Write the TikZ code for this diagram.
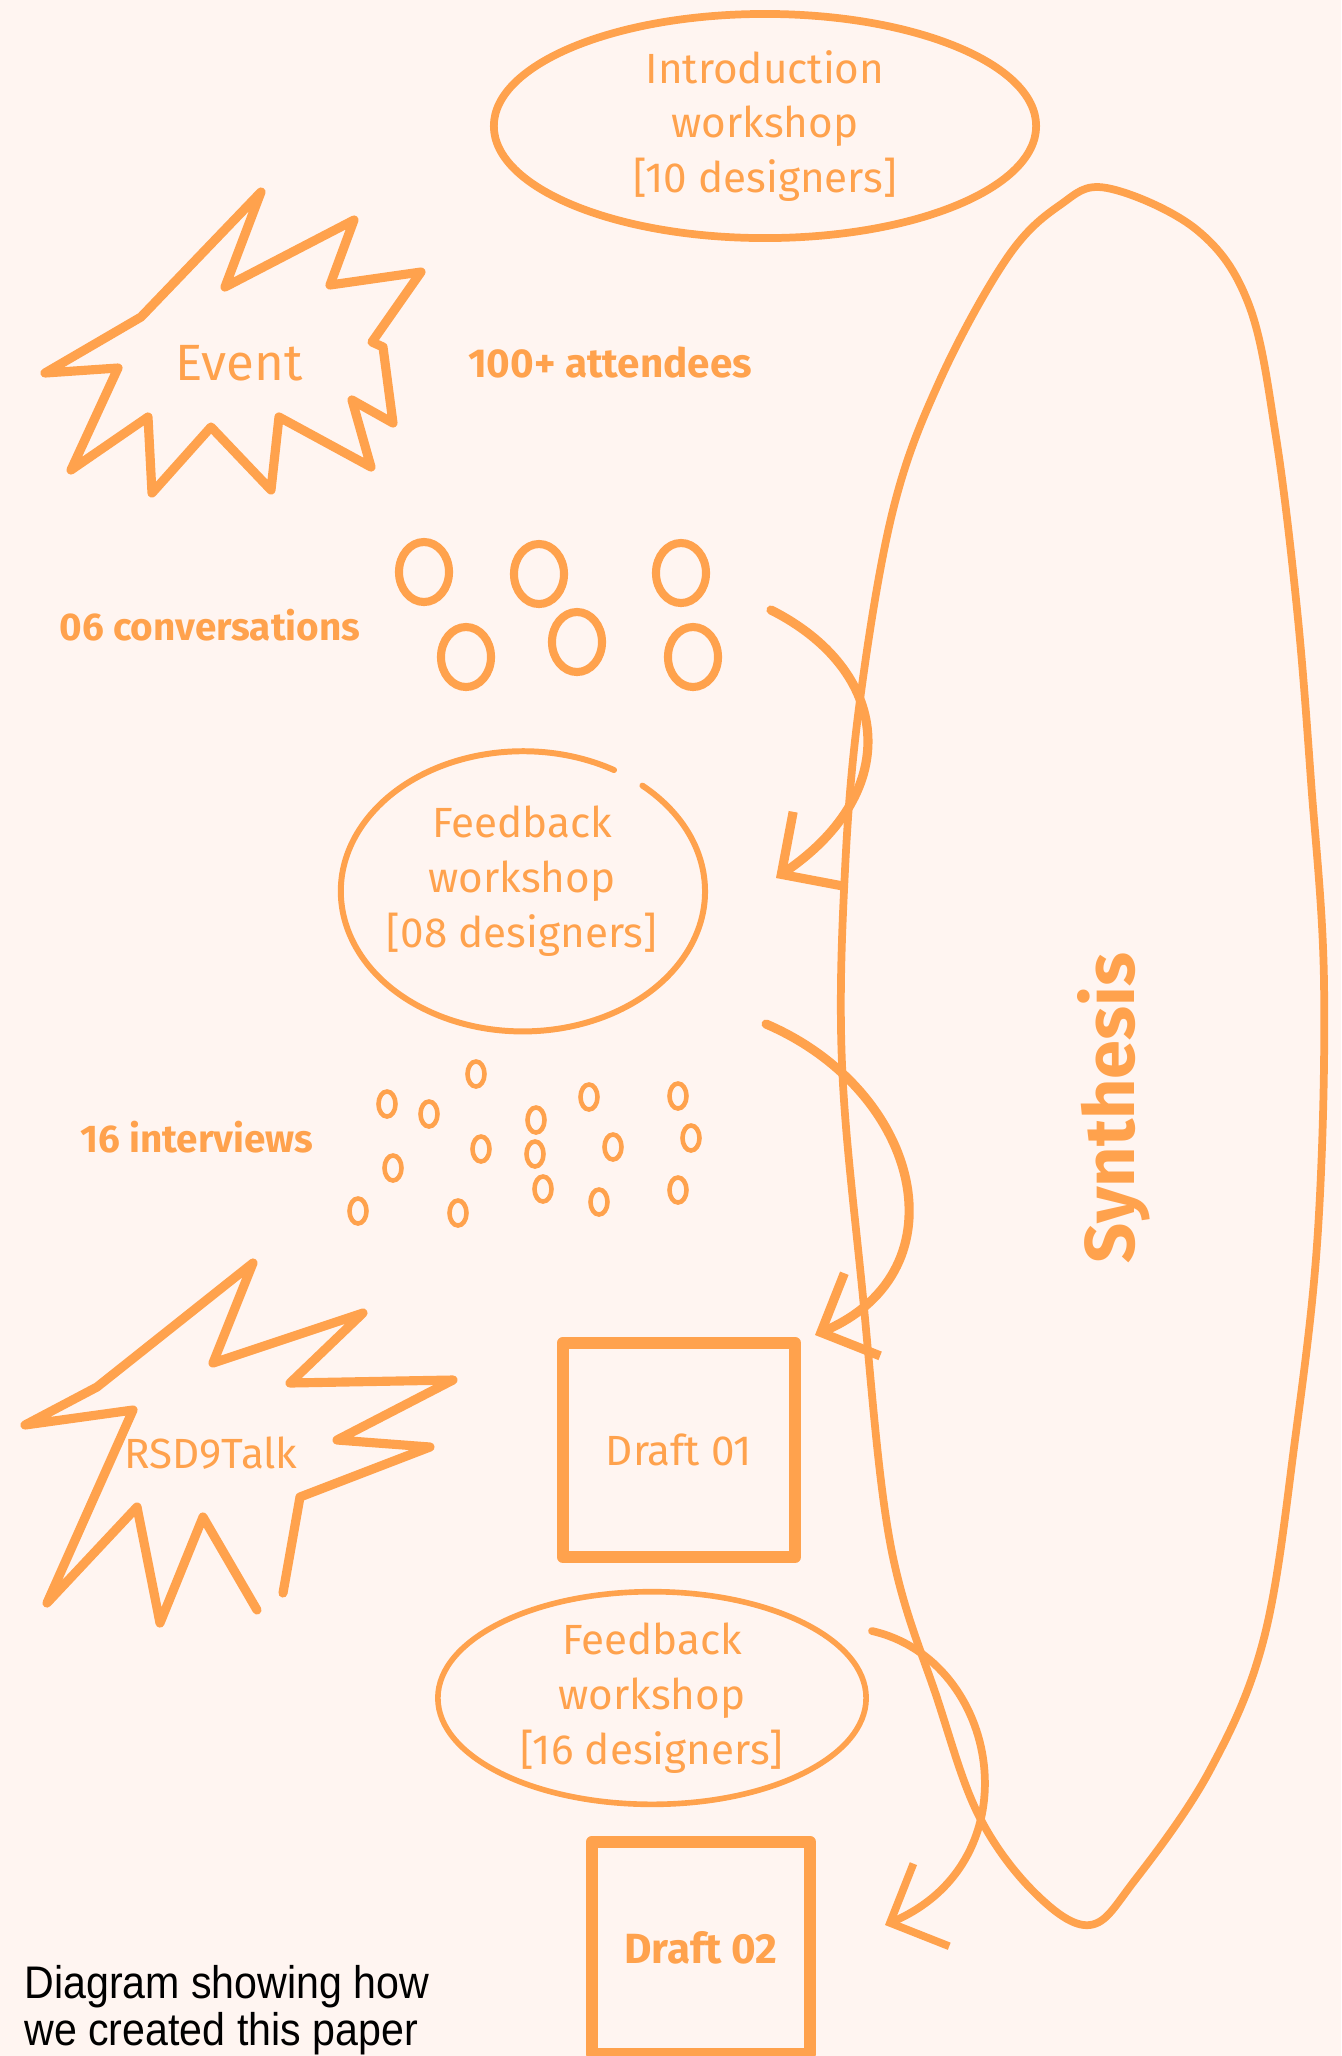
\documentclass[tikz,border=0pt]{standalone}
\usepackage{fontspec}
\setmainfont{Fira Sans}
\newfontfamily\capfont[FakeStretch=0.9]{Liberation Sans}
\usetikzlibrary{shapes.geometric,arrows.meta}
\definecolor{paper}{HTML}{FFF5F1}
\definecolor{marker}{HTML}{FFA24D}

\begin{document}
\begin{tikzpicture}[x=0.01cm, y=-0.01cm,
  brush/.style={draw=marker, line width=2.6pt, line cap=round, line join=round},
  thinbrush/.style={draw=marker, line width=1.7pt, line cap=round, line join=round},
  hand/.style={text=marker, align=center, font=\fontsize{12}{15.6}\selectfont},
  tally/.style={text=marker, font=\bfseries\fontsize{11}{13}\selectfont},
  ring/.style={shape=ellipse, draw=marker, line width=2.3pt, minimum width=0.5cm, minimum height=0.6cm, inner sep=0pt},
  pip/.style={shape=ellipse, draw=marker, line width=1.3pt, minimum width=0.17cm, minimum height=0.25cm, inner sep=0pt},
  draftbox/.style={hand, shape=rectangle, draw=marker, line width=3.4pt, line join=round},
  flow/.style={brush, -{Straight Barb[length=4.5mm,width=9mm]}}]
\fill[paper] (0,0) rectangle (1341,2056);
\useasboundingbox (0,0) rectangle (1341,2056);

\node[hand, shape=ellipse, draw=marker, line width=2.2pt, minimum width=5.42cm, minimum height=2.24cm, inner sep=0pt] (intro) at (765,126) {Introduction\\workshop\\ {[10 designers]}};

\draw[brush] (45,373) -- (118,368) -- (71,470) -- (148,417) -- (152,493) -- (211,427) -- (271,490) -- (279,417) -- (371,467) -- (352,400) -- (393,423) -- (383,347) -- (372,342) -- (421,272) -- (330,285) -- (354,220) -- (225,287) -- (261,192) -- (141,317) -- cycle;
\node[hand, font=\fontsize{14.5}{17}\selectfont] (ev) at (239,363) {Event};
\node[tally, font=\bfseries\fontsize{11.5}{13}\selectfont] (att) at (610,362) {100+ attendees};

\node[tally] (conv) at (210,625) {06 conversations};
\node[ring] (c1) at (424,572) {};
\node[ring] (c2) at (539,574) {};
\node[ring] (c3) at (681,573) {};
\node[ring] (c4) at (466,657) {};
\node[ring] (c5) at (577,642) {};
\node[ring] (c6) at (693,657) {};

\node[hand] (fb1) at (522,881) {Feedback\\workshop\\ {[08 designers]}};
\draw[thinbrush] (614,770) arc[start angle=60, end angle=409, x radius=1.82cm, y radius=1.4cm];

\node[tally] (intv) at (197,1137) {16 interviews};
\node[pip] (p1) at (476,1074) {};
\node[pip] (p2) at (387,1104) {};
\node[pip] (p3) at (429,1114) {};
\node[pip] (p4) at (536,1120) {};
\node[pip] (p5) at (589,1097) {};
\node[pip] (p6) at (678,1096) {};
\node[pip] (p7) at (691,1138) {};
\node[pip] (p8) at (481,1149) {};
\node[pip] (p9) at (535,1154) {};
\node[pip] (p10) at (613,1147) {};
\node[pip] (p11) at (393,1168) {};
\node[pip] (p12) at (543,1189) {};
\node[pip] (p13) at (599,1202) {};
\node[pip] (p14) at (678,1190) {};
\node[pip] (p15) at (358,1211) {};
\node[pip] (p16) at (458,1213) {};

\node[draftbox, minimum width=2.32cm, minimum height=2.14cm] (d1) at (679,1450) {Draft 01};

\draw[brush] (283,1593) -- (300,1497) -- (430,1447) -- (337,1440) -- (453,1380) -- (290,1383) -- (363,1313) -- (213,1363) -- (253,1263) -- (97,1387) -- (25,1425) -- (133,1410) -- (47,1603) -- (137,1507) -- (160,1623) -- (203,1517) -- (257,1610);
\node[hand] (rsd) at (211,1453) {RSD9Talk};

\node[hand, shape=ellipse, draw=marker, line width=1.6pt, minimum width=4.28cm, minimum height=1.76cm, inner sep=0pt] (fb2) at (652,1698) {Feedback\\workshop\\ {[16 designers]}};

\node[draftbox, font=\bfseries\fontsize{12}{14}\selectfont, minimum width=2.18cm, minimum height=2.12cm] (d2) at (701,1948) {Draft 02};

\draw[brush, line width=2.2pt] plot[smooth cycle, tension=0.6] coordinates {(1107,188) (1197,230) (1249,305) (1276,437) (1297,609) (1311,781) (1324,982) (1318,1230) (1295,1440) (1264,1638) (1210,1770) (1135,1880) (1090,1925) (1035,1893) (979,1816) (938,1701) (890,1542) (862,1287) (842,1064) (845,870) (860,700) (893,510) (940,380) (1007,258) (1060,205)};
\node[hand, font=\bfseries\fontsize{20}{24}\selectfont, rotate=90] (syn) at (1114,1108) {Synthesis};

\coordinate (a1s) at (771,610);
\coordinate (a1e) at (776,878);
\coordinate (a2s) at (766,1024);
\coordinate (a2e) at (815,1335);
\coordinate (a3s) at (872,1631);
\coordinate (a3e) at (885,1925);
\draw[flow] (a1s) .. controls (890,670) and (905,790) .. (a1e);
\draw[flow] (a2s) .. controls (920,1090) and (965,1270) .. (a2e);
\draw[flow, line width=2.2pt] (a3s) .. controls (1000,1660) and (1035,1860) .. (a3e);

\node[anchor=west, align=left, text=black, font=\capfont\fontsize{13}{13.4}\selectfont] (cap) at (12,2010) {Diagram showing how\\we created this paper};
\end{tikzpicture}
\end{document}
